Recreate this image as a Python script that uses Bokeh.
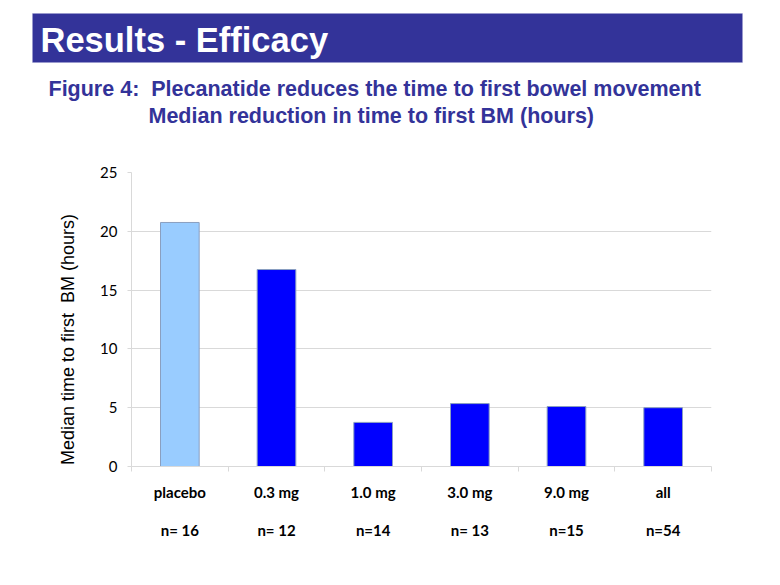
from bokeh.plotting import figure
from bokeh.models import (Range1d, FixedTicker, LinearAxis, Label, BoxAnnotation,
                          ColumnDataSource)
from bokeh.embed import file_html
from bokeh.resources import INLINE

# ---- data ----
categories = ["placebo", "0.3 mg", "1.0 mg", "3.0 mg", "9.0 mg", "all"]
n_labels = ["n= 16", "n= 12", "n=14", "n= 13", "n=15", "n=54"]
median_hours = [20.75, 16.75, 3.75, 5.35, 5.1, 5.0]
bar_colors = ["#99ccff", "#0000ff", "#0000ff", "#0000ff", "#0000ff", "#0000ff"]
y_ticks = [0, 5, 10, 15, 20, 25]

title_text = "Results - Efficacy"
subtitle_1 = "Figure 4:\u00a0 Plecanatide reduces the time to first bowel movement"
subtitle_2 = "Median reduction in time to first BM (hours)"
y_label = "Median time to first\u00a0 BM (hours)"

W, H = 780, 585
HEAD_H = 160

# ---------------- header (title banner + subtitles) ----------------
head = figure(width=W, height=HEAD_H, output_backend="svg", toolbar_location=None,
              x_range=Range1d(0, W), y_range=Range1d(HEAD_H, 0), min_border=0)
head.axis.visible = False
head.grid.visible = False
head.outline_line_color = None
head.background_fill_color = "white"
head.border_fill_color = "white"

head.add_layout(BoxAnnotation(left=32, right=742, top=13, bottom=62,
                              fill_color="#333399", fill_alpha=1.0,
                              line_color="#9a9ad0", line_width=1))
head.add_layout(Label(x=40, y=39, text=title_text, text_color="white",
                      text_font="Liberation Sans", text_font_style="bold",
                      text_font_size="34.5px", text_baseline="middle"))
head.add_layout(Label(x=48, y=88, text=subtitle_1, text_color="#333399",
                      text_font="Liberation Sans", text_font_style="bold",
                      text_font_size="21.5px", text_baseline="middle"))
head.add_layout(Label(x=148, y=115, text=subtitle_2, text_color="#333399",
                      text_font="Liberation Sans", text_font_style="bold",
                      text_font_size="21.5px", text_baseline="middle"))

# ---------------- chart ----------------
p = figure(width=W, height=H - HEAD_H, output_backend="svg", toolbar_location=None,
           x_range=Range1d(0, len(categories)), y_range=Range1d(0, 25),
           min_border_left=131, min_border_right=69, min_border_top=172 - HEAD_H,
           min_border_bottom=119)
p.outline_line_color = None
p.background_fill_color = "white"
p.border_fill_color = "white"

xs = [i + 0.5 for i in range(len(categories))]
src = ColumnDataSource(dict(x=xs, top=median_hours, color=bar_colors))
p.vbar(x="x", top="top", width=0.4, bottom=0, source=src, fill_color="color",
       line_color="#8a9fc0", line_width=1)

p.xgrid.visible = False
p.ygrid.ticker = FixedTicker(ticks=y_ticks)
p.ygrid.grid_line_color = "#d9d9d9"

ya = p.yaxis[0]
ya.ticker = FixedTicker(ticks=y_ticks)
ya.axis_line_color = "#d9d9d9"
ya.major_tick_line_color = "#d9d9d9"
ya.major_tick_out = 4
ya.major_tick_in = 0
ya.minor_tick_line_color = None
ya.major_label_text_font = "Lato"
ya.major_label_text_font_size = "15px"
ya.major_label_text_color = "#000000"
ya.major_label_standoff = 10
# trailing non-breaking spaces shift the centred label down, as in the reference
ya.axis_label = y_label + "\u00a0" * 8
ya.axis_label_text_font = "Liberation Sans"
ya.axis_label_text_font_style = "normal"
ya.axis_label_text_font_size = "18px"
ya.axis_label_text_color = "#000000"
ya.axis_label_standoff = 19

xa = p.xaxis[0]
xa.ticker = FixedTicker(ticks=xs, minor_ticks=list(range(len(categories) + 1)))
xa.major_label_overrides = {x: c for x, c in zip(xs, categories)}
xa.axis_line_color = "#d9d9d9"
xa.major_tick_line_color = None
xa.major_tick_out = 0
xa.major_tick_in = 0
xa.minor_tick_line_color = "#d9d9d9"
xa.minor_tick_out = 5
xa.minor_tick_in = 0
xa.major_label_text_font = "Lato"
xa.major_label_text_font_style = "bold"
xa.major_label_text_font_size = "15px"
xa.major_label_text_color = "#000000"
xa.major_label_standoff = 11

xn = LinearAxis(ticker=FixedTicker(ticks=xs))
xn.major_label_overrides = {x: n for x, n in zip(xs, n_labels)}
xn.axis_line_color = None
xn.major_tick_line_color = None
xn.minor_tick_line_color = None
xn.major_tick_out = 0
xn.major_tick_in = 0
xn.major_label_text_font = "Lato"
xn.major_label_text_font_style = "bold"
xn.major_label_text_font_size = "15px"
xn.major_label_text_color = "#000000"
xn.major_label_standoff = 17
p.add_layout(xn, "below")

open("out.html", "w").write(file_html([head, p], INLINE))
